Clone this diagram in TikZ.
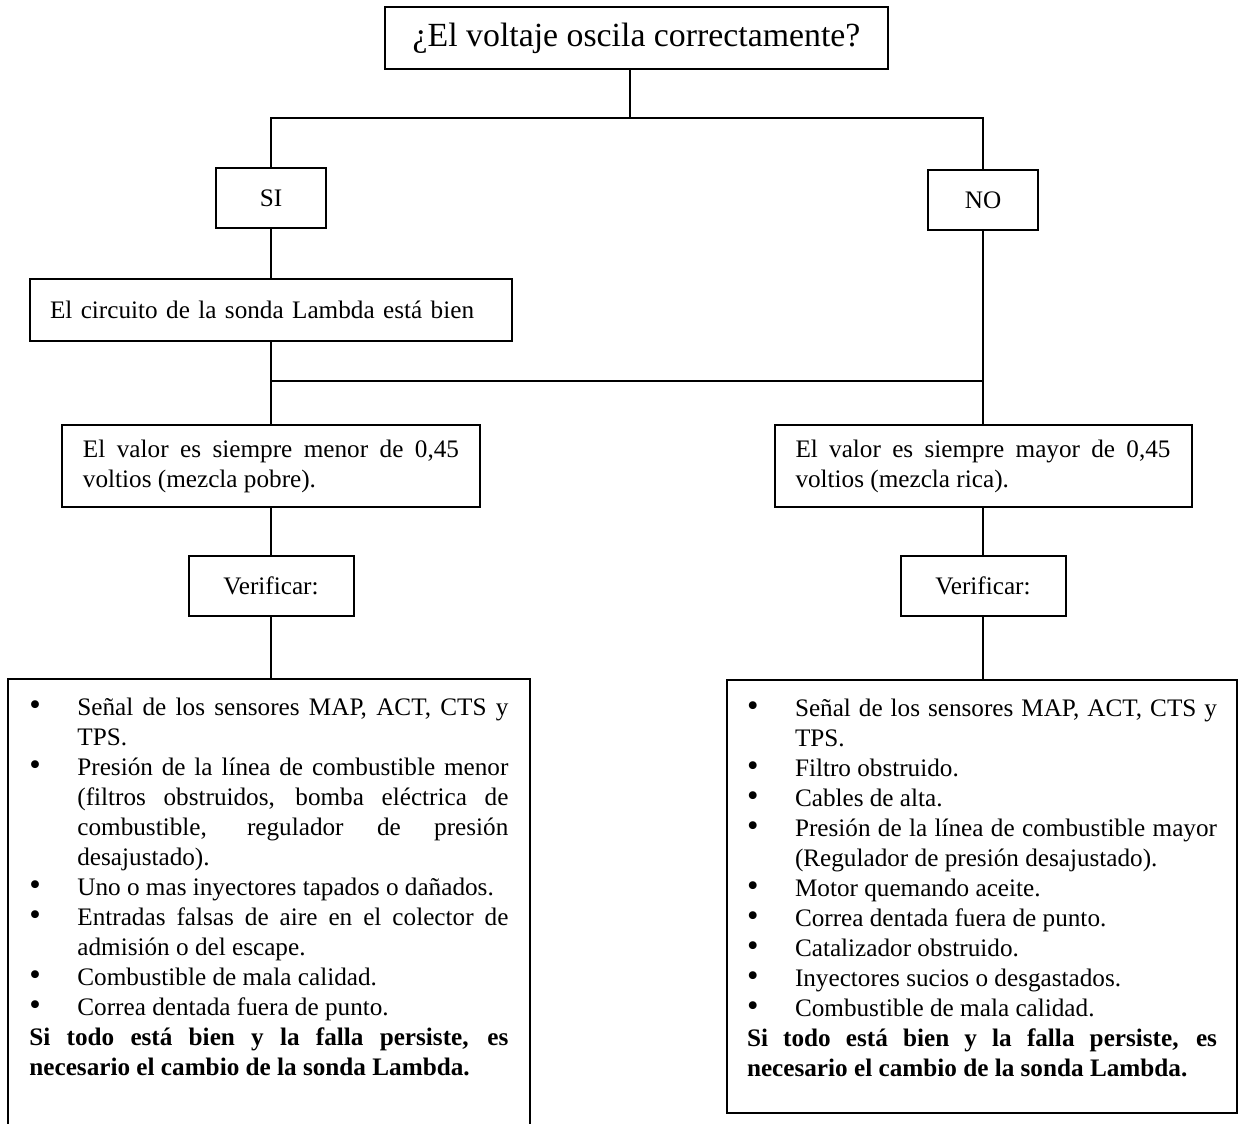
\documentclass[tikz,border=0pt]{standalone}
\usepackage{fontspec}
\setmainfont{Liberation Serif}
\usepackage{tikz}
\tolerance=10000 \hyphenpenalty=10000
\newcommand{\vineta}[1]{\noindent\hangindent=24pt\hangafter=1\makebox[24pt][l]{\scalebox{1.3}{\textbullet}}#1\par}
\tikzset{
  caja/.style={draw,line width=1pt,inner sep=0pt,font=\fontsize{12.6}{15}\selectfont},
  texto/.style={caja,align=justify,inner xsep=10.5pt,minimum height=41pt},
  lista/.style={inner sep=0pt,anchor=north west,align=justify,text height=18pt,font=\fontsize{12.6}{15}\selectfont},
  linea/.style={line width=0.75pt}
}
\begin{document}
\begin{tikzpicture}[x=0.5pt,y=-0.5pt]
\useasboundingbox (0,0) rectangle (1243,1124);
\node[caja,minimum width=251.5pt,minimum height=31pt,font=\fontsize{16.9}{20}\selectfont] (preg) at (636.5,38) {¿El voltaje oscila correctamente?};
\node[caja,minimum width=55pt,minimum height=30pt] (si) at (271,198) {SI};
\node[caja,minimum width=55pt,minimum height=30pt] (no) at (983,200) {NO};
\node[caja,text width=221pt,align=left,inner xsep=10pt,minimum height=31pt] (circ) at (271,310) {El circuito de la sonda Lambda está bien};
\node[texto,text width=188pt] (menor) at (271,466) {El valor es siempre menor de 0,45\linebreak voltios (mezcla pobre).};
\node[texto,text width=187.5pt] (mayor) at (983,466) {El valor es siempre mayor de 0,45\linebreak voltios (mezcla rica).};
\node[caja,minimum width=82.5pt,minimum height=30pt] (verif1) at (271,586) {Verificar:};
\node[caja,minimum width=82.5pt,minimum height=30pt] (verif2) at (983,586) {Verificar:};
\coordinate (rama1) at (630,118); \coordinate (puente) at (0,381); \coordinate (fondo) at (0,1124);

\node[lista,text width=239.5pt,inner xsep=10.5pt] (lista1) at (8,679) {%
\vineta{Señal de los sensores MAP, ACT, CTS y\linebreak TPS.}
\vineta{Presión de la línea de combustible menor\linebreak (filtros obstruidos, bomba eléctrica de\linebreak combustible, regulador de presión\linebreak desajustado).}
\vineta{Uno o mas inyectores tapados o dañados.}
\vineta{Entradas falsas de aire en el colector de\linebreak admisión o del escape.}
\vineta{Combustible de mala calidad.}
\vineta{Correa dentada fuera de punto.}
\noindent\textbf{Si todo está bien y la falla persiste, es\linebreak necesario el cambio de la sonda Lambda.}};
\node[lista,draw,line width=1pt,text width=235pt,inner xsep=10pt,text depth=198.5pt] (lista2) at (726,679) {%
\vineta{Señal de los sensores MAP, ACT, CTS y\linebreak TPS.}
\vineta{Filtro obstruido.}
\vineta{Cables de alta.}
\vineta{Presión de la línea de combustible mayor\linebreak (Regulador de presión desajustado).}
\vineta{Motor quemando aceite.}
\vineta{Correa dentada fuera de punto.}
\vineta{Catalizador obstruido.}
\vineta{Inyectores sucios o desgastados.}
\vineta{Combustible de mala calidad.}
\noindent\textbf{Si todo está bien y la falla persiste, es\linebreak necesario el cambio de la sonda Lambda.}};

\draw[linea] (preg.south -| rama1) -- (rama1);
\draw[linea] (si.north) |- (rama1) -| (no.north);
\draw[linea] (si.south) -- (circ.north); \draw[linea] (circ.south) -- (menor.north);
\draw[linea] (circ.south |- puente) -- (no.south |- puente); \draw[linea] (no.south) -- (mayor.north);
\draw[linea] (menor.south) -- (verif1.north); \draw[linea] (mayor.south) -- (verif2.north);
\draw[linea] (verif1.south) -- (verif1.south |- lista1.north); \draw[linea] (verif2.south) -- (verif2.south |- lista2.north);
\draw[line width=1pt] (lista1.north west |- fondo) -- (lista1.north west) -- (lista1.north east) -- (lista1.north east |- fondo);
\end{tikzpicture}
\end{document}
